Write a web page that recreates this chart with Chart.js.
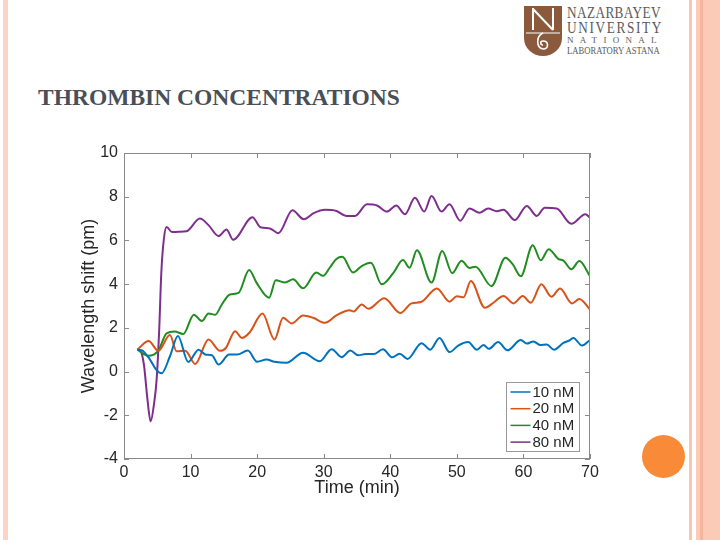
<!DOCTYPE html>
<html><head><meta charset="utf-8">
<script src="https://cdn.jsdelivr.net/npm/chart.js@4/dist/chart.umd.min.js"></script>
<style>
html,body{margin:0;padding:0;background:#fff;}
#wrap{position:relative;width:720px;height:540px;overflow:hidden;background:#fff;}
.abs{position:absolute;}
#title{left:38px;top:83px;font-family:"Liberation Serif",serif;font-weight:bold;font-size:23.5px;color:#4a4f57;white-space:nowrap;line-height:28px;}
.lt{font-family:"Liberation Serif",serif;color:#5b5b5b;white-space:nowrap;transform-origin:0 0;}
</style></head><body>
<div id="wrap">
  <div class="abs" style="left:3px;top:0;width:5px;height:540px;background:#fcd3c4;"></div>
  <div class="abs" style="left:689px;top:0;width:3px;height:540px;background:#f9c6b2;"></div>
  <div class="abs" style="left:696px;top:0;width:24px;height:540px;background:#fccbb8;"></div>
  <div class="abs" style="left:700px;top:0;width:3px;height:540px;background:#f6b59d;"></div>
  <div class="abs" style="left:642px;top:435px;width:43px;height:43px;border-radius:50%;background:#f98a38;"></div>
  <div id="title" class="abs">THROMBIN CONCENTRATIONS</div>
  <svg class="abs" style="left:524px;top:6px;" width="38" height="50" viewBox="0 0 38 50">
    <path d="M0 0 H38 V32 A19 18 0 0 1 0 32 Z" fill="#8b5a3c"/>
    <path d="M9 2 V24 M9 3 L29 24 M29 2 V24" stroke="#fff" stroke-width="2" fill="none"/>
    <path d="M2 27 H36" stroke="#fff" stroke-width="1.2"/>
    <path d="M19 27 C12 30 12 42 19 43 C25 43 25 35 19 35 C16 35 16 39 19 39" stroke="#fff" stroke-width="1.6" fill="none"/>
  </svg>
  <div class="abs lt" style="left:567px;top:3px;font-size:17px;transform:scaleX(0.78);letter-spacing:0.5px;">NAZARBAYEV</div>
  <div class="abs lt" style="left:567px;top:18px;font-size:17px;transform:scaleX(0.78);letter-spacing:2.1px;">UNIVERSITY</div>
  <div class="abs lt" style="left:567px;top:35px;font-size:9px;letter-spacing:6.3px;">NATIONAL</div>
  <div class="abs lt" style="left:567px;top:45px;font-size:10px;transform:scaleX(0.86);">LABORATORY ASTANA</div>
  <canvas id="c" width="720" height="540" class="abs" style="left:0;top:0;"></canvas>
</div>
<script>
// ---- data ----
const seriesLabels = ['10 nM', '20 nM', '40 nM', '80 nM'];
const seriesColors = ['#0072BD', '#D95319', '#218C21', '#7E2F8E'];

const time10 = [2, 2.7, 3.9, 4.8, 5.65, 6.9, 8.1, 9.65, 11.2, 12.3, 13.2, 14.2, 15.8, 17.0, 18.6, 20.0, 21.4, 22.6, 24.4, 26.9, 29.4, 31.2, 32.7, 34.0, 35.2, 36.3, 37.5, 38.9, 40.3, 41.4, 42.6, 44.7, 46.0, 47.4, 48.9, 50.2, 51.7, 53.0, 54.0, 54.8, 56.2, 57.6, 59.6, 60.5, 61.5, 62.5, 63.5, 64.6, 66.0, 67.0, 67.5, 68.8, 70];
const shift10 = [1.0, 0.97, 0.55, 0.1, -0.08, 0.7, 1.63, 0.44, 1.0, 0.77, 0.75, 0.32, 0.78, 0.78, 0.96, 0.45, 0.55, 0.45, 0.4, 0.86, 0.47, 1.02, 0.66, 0.96, 0.75, 0.8, 0.8, 1.02, 0.65, 0.82, 0.58, 1.3, 1.0, 1.54, 0.89, 1.19, 1.35, 1.0, 1.22, 1.04, 1.35, 0.97, 1.44, 1.28, 1.38, 1.22, 1.24, 1.0, 1.31, 1.44, 1.54, 1.19, 1.44];

const time20 = [2, 3.7, 5.15, 6.9, 7.9, 9.2, 10.7, 12.7, 14.4, 15.3, 16.7, 17.7, 18.9, 20.8, 22.6, 23.9, 25.2, 26.9, 28.4, 30.2, 31.9, 33.9, 34.5, 35.7, 36.7, 39.1, 41.5, 43.2, 44.6, 47.0, 48.9, 50.0, 51.0, 52.1, 54.2, 55.5, 57.0, 58.5, 59.9, 61.1, 62.7, 64.2, 65.5, 67.3, 68.4, 70];
const shift20 = [1.0, 1.4, 0.95, 1.67, 0.93, 0.95, 0.35, 1.47, 0.95, 1.08, 1.85, 1.54, 1.8, 2.66, 1.47, 2.46, 2.2, 2.57, 2.46, 2.23, 2.57, 2.81, 2.75, 3.07, 2.87, 3.36, 2.68, 3.12, 3.18, 3.8, 3.2, 3.45, 3.4, 4.14, 2.92, 3.15, 3.46, 3.12, 3.46, 3.15, 3.99, 3.42, 3.8, 3.12, 3.32, 2.84];

const time40 = [2, 3.65, 5.15, 6.4, 7.6, 8.9, 10.5, 11.7, 12.7, 13.7, 14.7, 15.9, 17.2, 18.8, 19.9, 21.8, 22.8, 24.2, 25.4, 26.9, 28.9, 29.9, 30.9, 31.9, 32.8, 34.4, 35.7, 37.1, 38.7, 40.5, 41.9, 42.9, 44.0, 46.2, 47.8, 49.3, 50.7, 51.9, 52.8, 55.2, 57.3, 58.4, 59.6, 61.4, 62.6, 63.8, 65.3, 66.0, 67.2, 68.4, 70];
const shift40 = [1.0, 0.72, 0.96, 1.75, 1.83, 1.72, 2.6, 2.31, 2.66, 2.6, 3.07, 3.53, 3.6, 4.65, 4.07, 3.38, 4.18, 4.07, 4.22, 3.81, 4.53, 4.38, 4.75, 5.15, 5.25, 4.53, 4.83, 4.98, 3.99, 4.53, 5.1, 4.75, 5.55, 4.07, 5.52, 4.5, 5.07, 4.74, 4.8, 3.91, 5.21, 4.9, 4.36, 5.78, 5.09, 5.6, 5.14, 5.08, 4.68, 5.06, 4.37];

const time80 = [2, 2.5, 3.0, 3.5, 4.0, 4.5, 4.9, 5.3, 5.6, 6.0, 6.4, 7.2, 8.2, 9.4, 11.4, 12.7, 14.2, 15.4, 16.4, 19.3, 20.5, 21.9, 23.2, 25.3, 27.0, 28.5, 30.2, 31.9, 33.4, 34.7, 36.5, 38.0, 39.5, 40.9, 42.2, 43.7, 45.1, 46.2, 47.7, 48.9, 50.5, 51.9, 53.4, 54.7, 56.0, 57.0, 58.7, 60.5, 62.0, 63.2, 65.0, 67.2, 69.3, 70];
const shift80 = [1.0, 0.93, 0.3, -1.2, -2.28, -1.5, -0.37, 2.0, 4.5, 6.1, 6.62, 6.38, 6.4, 6.42, 7.0, 6.7, 6.2, 6.5, 6.03, 7.06, 6.6, 6.55, 6.33, 7.38, 6.97, 7.25, 7.4, 7.35, 7.12, 7.12, 7.65, 7.6, 7.32, 7.6, 7.2, 7.95, 7.32, 8.03, 7.32, 7.66, 6.9, 7.46, 7.27, 7.46, 7.34, 7.4, 6.93, 7.58, 7.12, 7.5, 7.46, 6.76, 7.2, 7.04];

const xTickValues = [0, 10, 20, 30, 40, 50, 60, 70];
const yTickValues = [-4, -2, 0, 2, 4, 6, 8, 10];
const xTitle = 'Time (min)';
const yTitle = 'Wavelength shift (pm)';

// ---- build ----
const times = [time10, time20, time40, time80];
const shifts = [shift10, shift20, shift40, shift80];
const datasets = seriesLabels.map((lab, i) => ({
  label: lab,
  data: times[i].map((t, k) => ({x: t, y: shifts[i][k]})),
  borderColor: seriesColors[i],
  backgroundColor: seriesColors[i],
  borderWidth: 2,
  pointRadius: 0,
  cubicInterpolationMode: 'monotone',
  fill: false
}));

const axisColor = '#8a8a8a';
const textColor = '#262626';
const tickFont = {family: 'Liberation Sans, Arial, sans-serif', size: 16};
const titleFont = {family: 'Liberation Sans, Arial, sans-serif', size: 18};

const framePlugin = {
  id: 'frame',
  afterDatasetsDraw(chart) {
    const {ctx, chartArea: a, scales: {x, y}} = chart;
    ctx.save();
    ctx.strokeStyle = axisColor;
    ctx.lineWidth = 1;
    ctx.strokeRect(Math.round(a.left) + 0.5, Math.round(a.top) + 0.5, Math.round(a.right - a.left) - 1, Math.round(a.bottom - a.top) - 1);
    const tl = 5;
    ctx.beginPath();
    xTickValues.forEach(v => {
      const px = Math.round(x.getPixelForValue(v)) + 0.5;
      ctx.moveTo(px, a.bottom); ctx.lineTo(px, a.bottom - tl);
      ctx.moveTo(px, a.top); ctx.lineTo(px, a.top + tl);
    });
    yTickValues.forEach(v => {
      const py = Math.round(y.getPixelForValue(v)) + 0.5;
      ctx.moveTo(a.left, py); ctx.lineTo(a.left + tl, py);
      ctx.moveTo(a.right, py); ctx.lineTo(a.right - tl, py);
    });
    ctx.stroke();

    // legend box (inside, bottom-right)
    const bw = 73, bh = 69;
    const bx = Math.round(a.right - 11 - bw) + 0.5, by = Math.round(a.bottom - 8 - bh) + 0.5;
    ctx.fillStyle = '#ffffff';
    ctx.fillRect(bx, by, bw, bh);
    ctx.strokeStyle = '#9a9a9a';
    ctx.strokeRect(bx, by, bw, bh);
    ctx.font = '15px "Liberation Sans", Arial, sans-serif';
    ctx.textBaseline = 'middle';
    ctx.textAlign = 'left';
    chart.data.datasets.forEach((ds, i) => {
      const ry = by + 9.5 + i * 16.7;
      ctx.strokeStyle = ds.borderColor;
      ctx.lineWidth = 1.5;
      ctx.beginPath();
      ctx.moveTo(bx + 4, ry); ctx.lineTo(bx + 24, ry);
      ctx.stroke();
      ctx.fillStyle = textColor;
      ctx.fillText(ds.label, bx + 26, ry + 0.5);
    });
    ctx.restore();
  }
};

new Chart(document.getElementById('c'), {
  type: 'line',
  data: {datasets},
  options: {
    responsive: false,
    animation: false,
    devicePixelRatio: 1,
    layout: {padding: {left: 70, top: 153, right: 130, bottom: 40}},
    plugins: {legend: {display: false}, tooltip: {enabled: false}},
    scales: {
      x: {
        type: 'linear', min: 0, max: 70,
        afterBuildTicks: s => { s.ticks = xTickValues.map(v => ({value: v})); },
        afterFit: s => { s.height = 41; },
        grid: {display: false, drawTicks: false},
        border: {display: false},
        ticks: {color: textColor, font: tickFont, padding: 4, maxRotation: 0},
        title: {display: true, text: xTitle, color: textColor, font: titleFont, padding: {top: 0, bottom: 1}}
      },
      y: {
        type: 'linear', min: -4, max: 10,
        afterBuildTicks: s => { s.ticks = yTickValues.map(v => ({value: v})); },
        afterFit: s => { s.width = 54; },
        grid: {display: false, drawTicks: false},
        border: {display: false},
        ticks: {color: textColor, font: tickFont, padding: 6},
        title: {display: true, text: yTitle, color: textColor, font: titleFont, padding: {top: 8, bottom: 0}}
      }
    }
  },
  plugins: [framePlugin]
});
</script>
</body></html>
